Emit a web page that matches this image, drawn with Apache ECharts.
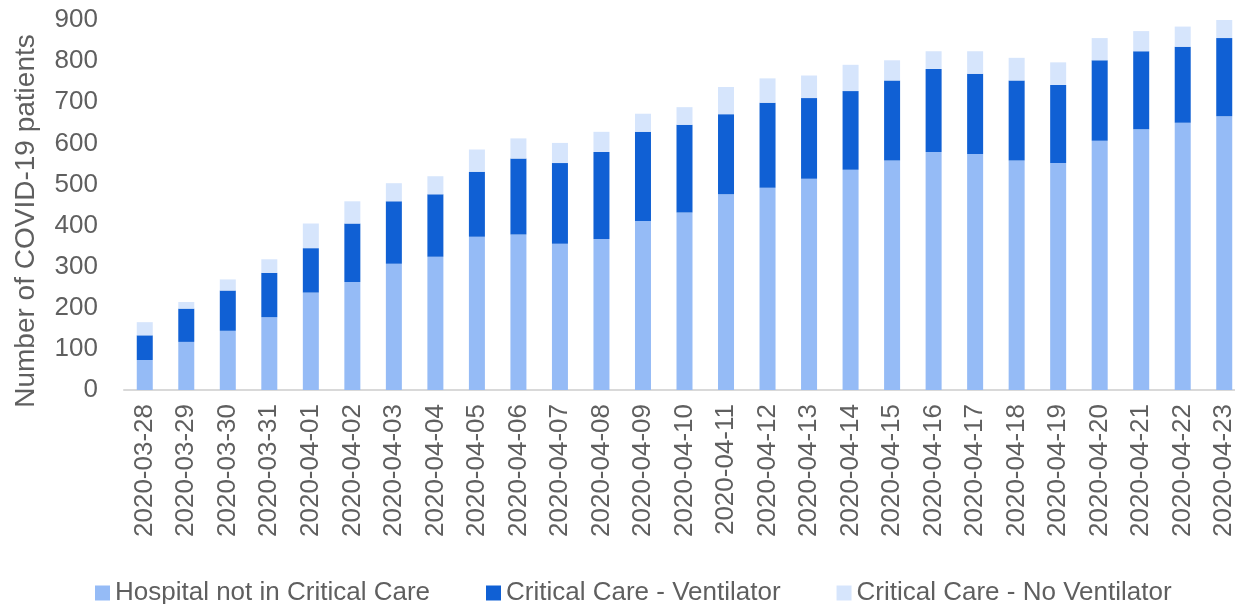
<!DOCTYPE html>
<html>
<head>
<meta charset="utf-8">
<script src="https://cdn.jsdelivr.net/npm/echarts@6/dist/echarts.min.js"></script>
<style>
html,body{margin:0;padding:0;background:#fff;}
#chart{width:1235px;height:604px;}
</style>
</head>
<body>
<div id="chart"></div>
<script>
var dates = ['2020-03-28','2020-03-29','2020-03-30','2020-03-31','2020-04-01','2020-04-02','2020-04-03',
  '2020-04-04','2020-04-05','2020-04-06','2020-04-07','2020-04-08','2020-04-09','2020-04-10',
  '2020-04-11','2020-04-12','2020-04-13','2020-04-14','2020-04-15','2020-04-16','2020-04-17',
  '2020-04-18','2020-04-19','2020-04-20','2020-04-21','2020-04-22','2020-04-23']
var hospital = [73,117,144,177,237,263,307,324,373,378,356,367,411,432,476,492,514,536,558,579,574,558,552,606,634,650,666]
var ventilator = [60,81,98,108,108,142,152,152,158,185,196,212,217,213,195,207,196,191,195,202,195,195,190,196,190,185,190]
var noVentilator = [32,16,27,33,60,54,44,44,54,49,49,49,44,43,66,59,55,64,49,43,55,55,55,54,49,49,44]
var yTicks = [0,100,200,300,400,500,600,700,800,900]

var textColor = '#5f5f5f'
var font = 'Liberation Sans, Arial, sans-serif'

var chart = echarts.init(document.getElementById('chart'))
var option = {
  animation: false,
  grid: {
    left: 124,
    right: -10,
    top: 20,
    bottom: 214,
    outerBoundsMode: 'none'
  },
  legend: {
    left: 90,
    top: 575,
    itemWidth: 15,
    itemHeight: 15,
    itemGap: 56,
    icon: 'rect',
    textStyle: { color: textColor, fontSize: 26, fontFamily: font },
    data: ['Hospital not in Critical Care', 'Critical Care - Ventilator', 'Critical Care - No Ventilator']
  },
  xAxis: {
    type: 'category',
    data: dates,
    axisLine: { lineStyle: { color: '#d9d9d9', width: 2 } },
    axisTick: { show: false },
    axisLabel: {
      rotate: 90,
      margin: 14,
      interval: 0,
      color: textColor,
      fontSize: 26,
      fontFamily: font
    }
  },
  yAxis: {
    type: 'value',
    min: yTicks[0],
    max: yTicks[yTicks.length - 1],
    interval: 100,
    splitLine: { show: false },
    axisLine: { show: false },
    axisLabel: { color: textColor, fontSize: 26, fontFamily: font, margin: 26 },
    name: 'Number of COVID-19 patients',
    nameLocation: 'middle',
    nameGap: 84,
    nameTextStyle: { color: textColor, fontSize: 28, fontFamily: font, padding: [0, 32, 0, 0] }
  },
  series: [
    {
      name: 'Hospital not in Critical Care',
      type: 'bar',
      stack: 'total',
      barWidth: 16,
      itemStyle: { color: '#95bbf6' },
      data: hospital
    },
    {
      name: 'Critical Care - Ventilator',
      type: 'bar',
      stack: 'total',
      barWidth: 16,
      itemStyle: { color: '#1060d4' },
      data: ventilator
    },
    {
      name: 'Critical Care - No Ventilator',
      type: 'bar',
      stack: 'total',
      barWidth: 16,
      itemStyle: { color: '#d6e5fc' },
      data: noVentilator
    }
  ]
}
chart.setOption(option)
</script>
</body>
</html>
